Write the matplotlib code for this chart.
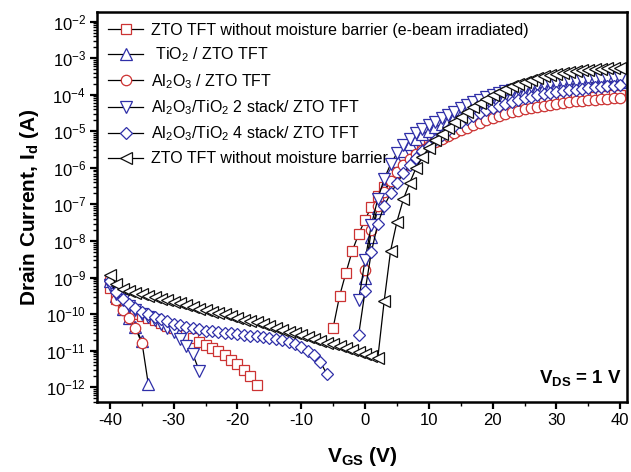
import numpy as np
import matplotlib
matplotlib.use("Agg")
import matplotlib.pyplot as plt
from matplotlib.ticker import LogLocator, MultipleLocator, NullFormatter

plt.rcParams['font.family'] = ['Liberation Sans', 'DejaVu Sans']
plt.rcParams['mathtext.default'] = 'regular'
plt.rcParams['axes.unicode_minus'] = False

# ---- data: log10(Id) values, V step 1 V ----
# e-beam irradiated (red squares)
sq_off_v = np.arange(-40, -16)
sq_off = [-9.3, -9.6, -9.8, -9.92, -10.0, -10.05, -10.1, -10.17, -10.25, -10.32, -10.38, -10.45,
          -10.56, -10.66, -10.76, -10.85, -10.93, -11.02, -11.12, -11.25, -11.38, -11.52, -11.7, -11.95]
sq_on_v = np.arange(-5, 41)
sq_on = [-10.37, -9.51, -8.87, -8.27, -7.81, -7.42, -7.06, -6.77, -6.52, -6.3, -6.1, -5.93, -5.77,
         -5.62, -5.49, -5.37, -5.26, -5.16, -5.07, -4.98, -4.9, -4.82, -4.75, -4.68, -4.62, -4.56,
         -4.5, -4.45, -4.4, -4.36, -4.32, -4.28, -4.25, -4.22, -4.19, -4.16, -4.14, -4.12, -4.1,
         -4.08, -4.06, -4.05, -4.04, -4.03, -4.02, -4.01]

# TiO2 / ZTO (blue up triangles)
ti_off_v = np.arange(-40, -33)
ti_off = [-9.1, -9.5, -9.85, -10.1, -10.35, -10.75, -11.9]
ti_on_v = np.arange(0, 41)
ti_on = [-9.0, -7.9, -7.1, -6.55, -6.1, -5.8, -5.55, -5.35, -5.2, -5.08, -4.98, -4.89, -4.8,
         -4.71, -4.62, -4.53, -4.44, -4.36, -4.28, -4.2, -4.14, -4.08, -4.03, -3.98, -3.94, -3.9,
         -3.86, -3.83, -3.8, -3.78, -3.76, -3.74, -3.72, -3.7, -3.69, -3.68, -3.67, -3.66, -3.65,
         -3.645, -3.64]

# Al2O3 / ZTO (red circles)
al_off_v = np.arange(-40, -34)
al_off = [-9.05, -9.62, -9.89, -10.12, -10.38, -10.8]
al_on_v = np.arange(0, 41)
al_on = [-8.8, -7.7, -7.05, -6.65, -6.35, -6.12, -5.93, -5.77, -5.63, -5.5, -5.39, -5.29, -5.2,
         -5.12, -5.04, -4.97, -4.9, -4.83, -4.76, -4.7, -4.64, -4.58, -4.53, -4.48, -4.44, -4.4,
         -4.36, -4.33, -4.3, -4.27, -4.24, -4.22, -4.2, -4.18, -4.16, -4.14, -4.13, -4.12, -4.11,
         -4.1, -4.09]

# Al2O3/TiO2 2 stack (blue down triangles)
s2_off_v = np.arange(-40, -25)
s2_off = [-9.2, -9.45, -9.62, -9.77, -9.9, -10.0, -10.08, -10.15, -10.27, -10.38, -10.5, -10.68,
          -10.88, -11.1, -11.55]
s2_on_v = np.arange(-1, 41)
s2_on = [-9.62, -8.52, -7.55, -6.85, -6.3, -5.9, -5.6, -5.38, -5.2, -5.05, -4.93, -4.84, -4.74,
         -4.64, -4.55, -4.46, -4.37, -4.29, -4.21, -4.13, -4.07, -4.01, -3.96, -3.91, -3.87, -3.83,
         -3.79, -3.76, -3.73, -3.71, -3.69, -3.67, -3.65, -3.63, -3.61, -3.6, -3.58, -3.57, -3.56,
         -3.55, -3.545, -3.54]

# Al2O3/TiO2 4 stack (blue diamonds)
s4_off_v = np.arange(-40, -5)
s4_off = [-9.1, -9.4, -9.6, -9.72, -9.84, -9.93, -10.0, -10.07, -10.14, -10.2, -10.26, -10.31,
          -10.35, -10.38, -10.42, -10.45, -10.47, -10.49, -10.51, -10.53, -10.55, -10.57, -10.59,
          -10.61, -10.63, -10.65, -10.68, -10.71, -10.76, -10.83, -10.91, -11.0, -11.12, -11.3, -11.65]
s4_on_v = np.arange(-1, 41)
s4_on = [-10.56, -9.37, -8.29, -7.53, -7.04, -6.7, -6.42, -6.15, -5.93, -5.73, -5.55, -5.4,
         -5.24, -5.1, -4.97, -4.85, -4.75, -4.66, -4.58, -4.5, -4.43, -4.36, -4.3, -4.24, -4.19,
         -4.14, -4.1, -4.06, -4.02, -3.99, -3.96, -3.93, -3.9, -3.88, -3.86, -3.84, -3.82, -3.8,
         -3.78, -3.77, -3.755, -3.74]

# without moisture barrier (black left triangles)
nb_v = np.arange(-40, 41)
nb = [-8.93, -9.18, -9.32, -9.38, -9.42, -9.46, -9.5, -9.54, -9.58, -9.62, -9.66, -9.7, -9.75,
      -9.8, -9.85, -9.89, -9.93, -9.97, -10.01, -10.06, -10.11, -10.15, -10.19, -10.23, -10.27,
      -10.32, -10.37, -10.43, -10.48, -10.53, -10.58, -10.63, -10.68, -10.73, -10.78, -10.83,
      -10.88, -10.93, -10.98, -11.04, -11.1, -11.15, -11.2,
      -9.64, -8.27, -7.47, -6.86, -6.41, -6.0, -5.7, -5.45, -5.25, -5.07, -4.9, -4.75, -4.6,
      -4.47, -4.34, -4.22, -4.11, -4.01, -3.92, -3.84, -3.77, -3.7, -3.64, -3.59, -3.54, -3.5,
      -3.46, -3.43, -3.4, -3.37, -3.35, -3.33, -3.31, -3.3, -3.29, -3.28, -3.27, -3.26]

labels = ["ZTO TFT without moisture barrier (e-beam irradiated)",
          " TiO$_2$ / ZTO TFT",
          "Al$_2$O$_3$ / ZTO TFT",
          "Al$_2$O$_3$/TiO$_2$ 2 stack/ ZTO TFT",
          "Al$_2$O$_3$/TiO$_2$ 4 stack/ ZTO TFT",
          "ZTO TFT without moisture barrier"]

RED = '#cc3333'
BLUE = '#2f2fa8'
BLK = '#111111'


def seg(v1, l1, v2=None, l2=None):
    v = list(v1)
    l = list(l1)
    if v2 is not None:
        v += [np.nan]
        l += [np.nan]
        v += list(v2)
        l += list(l2)
    v = np.array(v, float)
    return v, 10.0 ** np.array(l, float)


series = [
    (seg(sq_off_v, sq_off, sq_on_v, sq_on), 's', RED, 6.5),
    (seg(ti_off_v, ti_off, ti_on_v, ti_on), '^', BLUE, 8),
    (seg(al_off_v, al_off, al_on_v, al_on), 'o', RED, 7.5),
    (seg(s2_off_v, s2_off, s2_on_v, s2_on), 'v', BLUE, 8),
    (seg(s4_off_v, s4_off, s4_on_v, s4_on), 'D', BLUE, 6.3),
    (seg(nb_v, nb), '<', BLK, 8),
]

fig = plt.figure(figsize=(6.31, 4.72), dpi=100)
ax = fig.add_axes([0.154, 0.148, 0.840, 0.827])

for (xy, m, c, ms), lab in zip(series, labels):
    x, y = xy
    ax.plot(x, y, color='black', lw=0.9, marker=m, ms=ms, mfc='white',
            mec=c, mew=0.9, label=lab)

ax.set_yscale('log')
ax.set_xlim(-42, 41.1)
ax.set_ylim(10 ** -12.41, 10 ** -1.73)
ax.xaxis.set_major_locator(MultipleLocator(10))
ax.xaxis.set_minor_locator(MultipleLocator(5))
ax.yaxis.set_major_locator(LogLocator(base=10, numticks=20))
ax.yaxis.set_minor_locator(LogLocator(base=10, subs=np.arange(2, 10), numticks=20))
ax.yaxis.set_minor_formatter(NullFormatter())

for s in ax.spines.values():
    s.set_linewidth(1.8)
ax.tick_params(which='major', direction='out', length=5, width=1.6, labelsize=12, pad=3)
ax.tick_params(which='minor', direction='out', length=3, width=1.0)
ax.tick_params(axis='x', which='both', top=False)
ax.tick_params(axis='y', which='both', right=False)

ax.set_xlabel("V$_{GS}$ (V)", fontsize=15, fontweight='bold', labelpad=12)
ax.set_ylabel("Drain Current, I$_d$ (A)", fontsize=15, fontweight='bold', labelpad=4)

ax.text(0.99, 0.035, "V$_{DS}$ = 1 V", transform=ax.transAxes, ha='right', va='bottom',
        fontsize=13.5, fontweight='bold')

leg = ax.legend(loc='upper left', frameon=False, fontsize=11.5, handlelength=2.2,
                handletextpad=0.5, labelspacing=0.48, borderaxespad=0.3)

fig.savefig("out.png", dpi=100)
